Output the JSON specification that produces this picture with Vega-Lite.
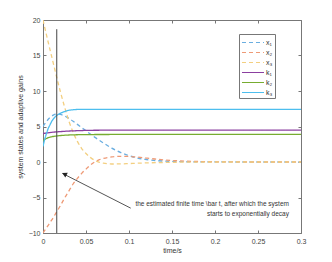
{
  "$schema": "https://vega.github.io/schema/vega-lite/v6.json",
  "width": 258,
  "height": 213,
  "autosize": "none",
  "padding": {"left": 43, "top": 20, "right": 31, "bottom": 29},
  "background": "white",
  "config": {
    "view": {"stroke": "#777777", "strokeWidth": 1},
    "font": "Liberation Sans",
    "axis": {
      "domain": false,
      "grid": false,
      "tickColor": "#777777",
      "tickSize": -3,
      "labelFontSize": 7,
      "labelColor": "#444444",
      "titleFontSize": 7,
      "titleFontWeight": "normal",
      "titleColor": "#333333"
    }
  },
  "resolve": {"axis": {"x": "independent", "y": "independent"}},
  "datasets": {
    "curves": [
      {"t": 0, "v": 5, "s": "x₁"}, {"t": 0.004, "v": 5.7, "s": "x₁"}, {"t": 0.008, "v": 6.25, "s": "x₁"}, {"t": 0.012, "v": 6.6, "s": "x₁"}, {"t": 0.016, "v": 6.75, "s": "x₁"}, {"t": 0.02, "v": 6.7, "s": "x₁"}, {"t": 0.025, "v": 6.5, "s": "x₁"}, {"t": 0.03, "v": 6.15, "s": "x₁"}, {"t": 0.035, "v": 5.75, "s": "x₁"}, {"t": 0.04, "v": 5.3, "s": "x₁"}, {"t": 0.05, "v": 4.4, "s": "x₁"}, {"t": 0.06, "v": 3.5, "s": "x₁"}, {"t": 0.07, "v": 2.7, "s": "x₁"}, {"t": 0.08, "v": 1.95, "s": "x₁"}, {"t": 0.09, "v": 1.35, "s": "x₁"}, {"t": 0.1, "v": 0.9, "s": "x₁"}, {"t": 0.11, "v": 0.55, "s": "x₁"}, {"t": 0.12, "v": 0.35, "s": "x₁"}, {"t": 0.14, "v": 0.13, "s": "x₁"}, {"t": 0.16, "v": 0.05, "s": "x₁"}, {"t": 0.18, "v": 0.02, "s": "x₁"}, {"t": 0.2, "v": 0.01, "s": "x₁"}, {"t": 0.25, "v": 0, "s": "x₁"}, {"t": 0.3, "v": 0, "s": "x₁"},
      {"t": 0, "v": -10, "s": "x₂"}, {"t": 0.005, "v": -9.1, "s": "x₂"}, {"t": 0.01, "v": -8.2, "s": "x₂"}, {"t": 0.015, "v": -7.2, "s": "x₂"}, {"t": 0.02, "v": -6.2, "s": "x₂"}, {"t": 0.025, "v": -5.1, "s": "x₂"}, {"t": 0.03, "v": -4.1, "s": "x₂"}, {"t": 0.035, "v": -3.1, "s": "x₂"}, {"t": 0.04, "v": -2.3, "s": "x₂"}, {"t": 0.045, "v": -1.6, "s": "x₂"}, {"t": 0.05, "v": -1.0, "s": "x₂"}, {"t": 0.055, "v": -0.45, "s": "x₂"}, {"t": 0.06, "v": 0, "s": "x₂"}, {"t": 0.065, "v": 0.3, "s": "x₂"}, {"t": 0.07, "v": 0.5, "s": "x₂"}, {"t": 0.08, "v": 0.72, "s": "x₂"}, {"t": 0.09, "v": 0.8, "s": "x₂"}, {"t": 0.1, "v": 0.78, "s": "x₂"}, {"t": 0.11, "v": 0.68, "s": "x₂"}, {"t": 0.12, "v": 0.55, "s": "x₂"}, {"t": 0.13, "v": 0.42, "s": "x₂"}, {"t": 0.14, "v": 0.3, "s": "x₂"}, {"t": 0.16, "v": 0.15, "s": "x₂"}, {"t": 0.18, "v": 0.07, "s": "x₂"}, {"t": 0.2, "v": 0.03, "s": "x₂"}, {"t": 0.25, "v": 0, "s": "x₂"}, {"t": 0.3, "v": 0, "s": "x₂"},
      {"t": 0, "v": 20, "s": "x₃"}, {"t": 0.005, "v": 17.4, "s": "x₃"}, {"t": 0.01, "v": 14.9, "s": "x₃"}, {"t": 0.015, "v": 12.4, "s": "x₃"}, {"t": 0.02, "v": 10.0, "s": "x₃"}, {"t": 0.025, "v": 7.8, "s": "x₃"}, {"t": 0.03, "v": 5.8, "s": "x₃"}, {"t": 0.035, "v": 4.2, "s": "x₃"}, {"t": 0.04, "v": 2.9, "s": "x₃"}, {"t": 0.045, "v": 1.9, "s": "x₃"}, {"t": 0.05, "v": 1.2, "s": "x₃"}, {"t": 0.055, "v": 0.65, "s": "x₃"}, {"t": 0.06, "v": 0.25, "s": "x₃"}, {"t": 0.065, "v": -0.02, "s": "x₃"}, {"t": 0.07, "v": -0.16, "s": "x₃"}, {"t": 0.08, "v": -0.28, "s": "x₃"}, {"t": 0.09, "v": -0.27, "s": "x₃"}, {"t": 0.1, "v": -0.22, "s": "x₃"}, {"t": 0.12, "v": -0.13, "s": "x₃"}, {"t": 0.14, "v": -0.07, "s": "x₃"}, {"t": 0.16, "v": -0.03, "s": "x₃"}, {"t": 0.2, "v": 0, "s": "x₃"}, {"t": 0.3, "v": 0, "s": "x₃"},
      {"t": 0, "v": 4.0, "s": "k₁"}, {"t": 0.005, "v": 4.1, "s": "k₁"}, {"t": 0.01, "v": 4.18, "s": "k₁"}, {"t": 0.02, "v": 4.28, "s": "k₁"}, {"t": 0.03, "v": 4.36, "s": "k₁"}, {"t": 0.04, "v": 4.41, "s": "k₁"}, {"t": 0.05, "v": 4.45, "s": "k₁"}, {"t": 0.07, "v": 4.48, "s": "k₁"}, {"t": 0.1, "v": 4.5, "s": "k₁"}, {"t": 0.3, "v": 4.5, "s": "k₁"},
      {"t": 0, "v": 3.0, "s": "k₂"}, {"t": 0.003, "v": 3.25, "s": "k₂"}, {"t": 0.006, "v": 3.42, "s": "k₂"}, {"t": 0.01, "v": 3.55, "s": "k₂"}, {"t": 0.015, "v": 3.65, "s": "k₂"}, {"t": 0.02, "v": 3.72, "s": "k₂"}, {"t": 0.03, "v": 3.8, "s": "k₂"}, {"t": 0.04, "v": 3.84, "s": "k₂"}, {"t": 0.06, "v": 3.87, "s": "k₂"}, {"t": 0.1, "v": 3.88, "s": "k₂"}, {"t": 0.3, "v": 3.88, "s": "k₂"},
      {"t": 0, "v": 2.2, "s": "k₃"}, {"t": 0.002, "v": 3.2, "s": "k₃"}, {"t": 0.004, "v": 4.0, "s": "k₃"}, {"t": 0.006, "v": 4.7, "s": "k₃"}, {"t": 0.008, "v": 5.2, "s": "k₃"}, {"t": 0.01, "v": 5.7, "s": "k₃"}, {"t": 0.013, "v": 6.2, "s": "k₃"}, {"t": 0.016, "v": 6.55, "s": "k₃"}, {"t": 0.02, "v": 6.85, "s": "k₃"}, {"t": 0.025, "v": 7.1, "s": "k₃"}, {"t": 0.03, "v": 7.28, "s": "k₃"}, {"t": 0.035, "v": 7.36, "s": "k₃"}, {"t": 0.04, "v": 7.4, "s": "k₃"}, {"t": 0.3, "v": 7.42, "s": "k₃"}
    ],
    "vline": [{"t": 0.016, "y": 18.7, "y2": -10}],
    "arrow": [{"t": 0.102, "y": -6.5, "t2": 0.0225, "y2": -1.6}],
    "head": [{"t": 0.0249, "y": -1.7}],
    "notes": [
      {"t": 0.286, "y": -5.9, "label": "the estimated finite time \\bar t, after which the system"},
      {"t": 0.286, "y": -7.3, "label": "starts to exponentially decay"}
    ]
  },
  "layer": [
    {
      "data": {"name": "curves"},
      "mark": {"type": "line", "interpolate": "monotone", "clip": true},
      "encoding": {
        "x": {"field": "t", "type": "quantitative", "scale": {"domain": [0, 0.3], "nice": false},
              "axis": {"values": [0, 0.05, 0.1, 0.15, 0.2, 0.25, 0.3], "format": "~g", "title": "time/s", "labelPadding": 7, "titlePadding": 2, "labelFlush": false}},
        "y": {"field": "v", "type": "quantitative", "scale": {"domain": [-10, 20], "nice": false},
              "axis": {"values": [-10, -5, 0, 5, 10, 15, 20], "title": "system states and adaptive gains", "labelPadding": 6, "titlePadding": 5, "labelFlush": false}},
        "color": {"field": "s", "type": "nominal",
                  "scale": {"domain": ["x₁", "x₂", "x₃", "k₁", "k₂", "k₃"], "range": ["#6aaee0", "#ee9a76", "#f3cf80", "#8b3fa0", "#77ac30", "#4dbeee"]},
                  "legend": {"title": null, "orient": "none", "legendX": 196, "legendY": 14, "strokeColor": "#777777", "padding": 2, "rowPadding": 0,
                             "symbolType": "M-1,0H3", "symbolSize": 121, "symbolStrokeWidth": 1.2, "labelOffset": 12, "labelFontSize": 7, "labelColor": "#333333", "fillColor": "white"}},
        "strokeDash": {"field": "s", "type": "nominal",
                       "scale": {"domain": ["x₁", "x₂", "x₃", "k₁", "k₂", "k₃"], "range": [[4, 3], [4, 3], [4, 3], [1, 0], [1, 0], [1, 0]]}},
        "strokeWidth": {"value": 1.3}
      }
    },
    {
      "data": {"name": "vline"},
      "mark": {"type": "rule", "color": "#444444", "strokeWidth": 1},
      "encoding": {
        "x": {"field": "t", "type": "quantitative", "axis": {"orient": "top", "labels": false, "title": null, "values": [0, 0.05, 0.1, 0.15, 0.2, 0.25, 0.3]}},
        "y": {"field": "y", "type": "quantitative", "axis": {"orient": "right", "labels": false, "title": null, "values": [-10, -5, 0, 5, 10, 15, 20]}},
        "y2": {"field": "y2"}
      }
    },
    {
      "data": {"name": "arrow"},
      "mark": {"type": "rule", "color": "#555555", "strokeWidth": 1},
      "encoding": {
        "x": {"field": "t", "type": "quantitative", "axis": null},
        "y": {"field": "y", "type": "quantitative", "axis": null},
        "x2": {"field": "t2"},
        "y2": {"field": "y2"}
      }
    },
    {
      "data": {"name": "head"},
      "mark": {"type": "point", "shape": "triangle-up", "filled": true, "color": "#222222", "size": 30, "angle": 297, "opacity": 1},
      "encoding": {
        "x": {"field": "t", "type": "quantitative", "axis": null},
        "y": {"field": "y", "type": "quantitative", "axis": null}
      }
    },
    {
      "data": {"name": "notes"},
      "mark": {"type": "text", "align": "right", "baseline": "middle", "fontSize": 6.5, "color": "#333333"},
      "encoding": {
        "x": {"field": "t", "type": "quantitative", "axis": null},
        "y": {"field": "y", "type": "quantitative", "axis": null},
        "text": {"field": "label"}
      }
    }
  ]
}
